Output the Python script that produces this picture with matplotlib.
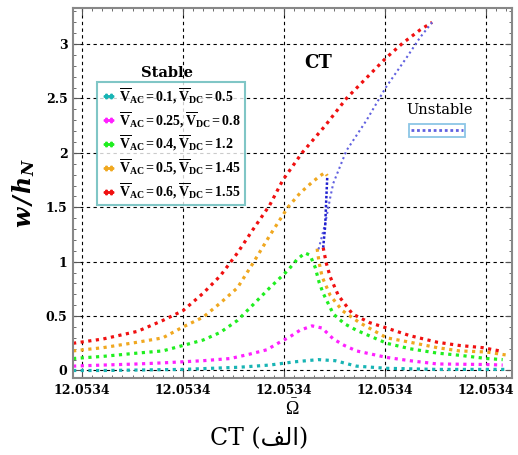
import matplotlib
matplotlib.use('Agg')
import matplotlib.pyplot as plt
from matplotlib.lines import Line2D
from matplotlib.ticker import MultipleLocator, FixedLocator, FixedFormatter

plt.rcParams['font.family'] = ['DejaVu Serif', 'DejaVu Sans']
plt.rcParams['mathtext.fontset'] = 'custom'
plt.rcParams['mathtext.rm'] = 'Liberation Serif'
plt.rcParams['mathtext.it'] = 'Liberation Serif:italic'
plt.rcParams['mathtext.bf'] = 'Liberation Serif:bold'
plt.rcParams['mathtext.bfit'] = 'DejaVu Serif:italic:bold'

# ---- data (x in tick units, 0..4 = the five ticks) ----
x_ticks = [0, 1, 2, 3, 4]
x_tick_labels = ['12.0534'] * 5
y_ticks = [0, 0.5, 1, 1.5, 2, 2.5, 3]
y_tick_labels = ['0', '0.5', '1', '1.5', '2', '2.5', '3']

# Vac=0.6, Vdc=1.55 : stable lower branch up to the peak
red_up_x = [-0.09, 0.21, 0.55, 0.80, 1.00, 1.20, 1.37, 1.54, 1.69, 1.86, 1.99,
            2.18, 2.41, 2.62, 3.01, 3.18, 3.35, 3.47]
red_up_y = [0.25, 0.29, 0.36, 0.46, 0.55, 0.71, 0.87, 1.08, 1.29, 1.52, 1.75,
            2.00, 2.25, 2.50, 2.87, 3.01, 3.13, 3.20]
# stable right branch
red_dn_x = [2.39, 2.42, 2.46, 2.54, 2.68, 2.85, 3.02, 3.25, 3.52, 3.74, 3.97, 4.14]
red_dn_y = [1.13, 0.99, 0.86, 0.69, 0.52, 0.44, 0.39, 0.32, 0.26, 0.23, 0.21, 0.18]
# unstable branch
red_un_x = [3.47, 3.35, 3.22, 3.01, 2.82, 2.62, 2.49, 2.46, 2.41, 2.36, 2.34]
red_un_y = [3.20, 3.06, 2.88, 2.60, 2.30, 2.02, 1.72, 1.59, 1.35, 1.17, 1.10]

# Vac=0.5, Vdc=1.45
org_up_x = [-0.09, 0.21, 0.55, 0.80, 1.00, 1.20, 1.37, 1.54, 1.69, 1.86, 2.04,
            2.16, 2.28, 2.36, 2.41, 2.43]
org_up_y = [0.18, 0.21, 0.26, 0.30, 0.40, 0.49, 0.62, 0.76, 0.98, 1.24, 1.50,
            1.63, 1.73, 1.79, 1.82, 1.79]
org_dn_x = [2.33, 2.35, 2.38, 2.46, 2.58, 2.75, 3.02, 3.25, 3.52, 3.74, 4.01, 4.22]
org_dn_y = [1.12, 0.99, 0.86, 0.69, 0.55, 0.44, 0.30, 0.26, 0.21, 0.18, 0.17, 0.14]
org_un_x = [2.43, 2.42, 2.41, 2.39]
org_un_y = [1.77, 1.56, 1.33, 1.13]

# Vac=0.4, Vdc=1.2
grn_x = [-0.09, 0.21, 0.55, 0.80, 1.00, 1.20, 1.37, 1.54, 1.69, 1.86, 2.04, 2.13,
         2.21, 2.26, 2.31, 2.35, 2.39, 2.49, 2.60, 2.72, 3.02, 3.25, 3.52, 3.74,
         4.01, 4.17]
grn_y = [0.11, 0.13, 0.16, 0.18, 0.23, 0.28, 0.35, 0.46, 0.60, 0.76, 0.92, 1.02,
         1.08, 1.06, 0.95, 0.81, 0.71, 0.52, 0.43, 0.37, 0.25, 0.20, 0.16, 0.14,
         0.11, 0.10]

# Vac=0.25, Vdc=0.8
mag_x = [-0.09, 0.21, 0.55, 0.80, 1.00, 1.20, 1.47, 1.66, 1.83, 1.96, 2.06, 2.16,
         2.28, 2.38, 2.49, 2.60, 2.72, 3.02, 3.25, 3.52, 4.01, 4.17]
mag_y = [0.04, 0.05, 0.06, 0.07, 0.08, 0.09, 0.11, 0.15, 0.19, 0.26, 0.31, 0.37,
         0.41, 0.39, 0.29, 0.23, 0.18, 0.12, 0.09, 0.06, 0.055, 0.05]

# Vac=0.1, Vdc=0.5
cyn_x = [-0.09, 0.21, 1.00, 1.56, 1.86, 2.11, 2.34, 2.51, 2.72, 3.02, 3.52, 4.22]
cyn_y = [0.00, 0.00, 0.01, 0.03, 0.05, 0.08, 0.10, 0.09, 0.04, 0.02, 0.01, 0.01]

labels = [r'$\mathbf{\overline{V}_{AC}=0.1,\overline{V}_{DC}=0.5}$',
          r'$\mathbf{\overline{V}_{AC}=0.25,\overline{V}_{DC}=0.8}$',
          r'$\mathbf{\overline{V}_{AC}=0.4,\overline{V}_{DC}=1.2}$',
          r'$\mathbf{\overline{V}_{AC}=0.5,\overline{V}_{DC}=1.45}$',
          r'$\mathbf{\overline{V}_{AC}=0.6,\overline{V}_{DC}=1.55}$']
colors = ['#18b4b4', '#ff20ff', '#20ee20', '#f0a820', '#f01010']
unstable_color = '#6060e0'

fig = plt.figure(figsize=(5.18, 4.55), dpi=100)
ax = fig.add_axes([0.141, 0.169, 0.847, 0.813])

dot = dict(ls=(0, (1, 1.4)), lw=2.3)
ax.plot(cyn_x, cyn_y, color=colors[0], **dot)
ax.plot(mag_x, mag_y, color=colors[1], **dot)
ax.plot(grn_x, grn_y, color=colors[2], **dot)
ax.plot(org_up_x, org_up_y, color=colors[3], **dot)
ax.plot(org_dn_x, org_dn_y, color=colors[3], **dot)
ax.plot(red_up_x, red_up_y, color=colors[4], **dot)
ax.plot(red_dn_x, red_dn_y, color=colors[4], **dot)
ax.plot(red_un_x, red_un_y, color=unstable_color, ls=(0, (1, 1.5)), lw=1.5)
ax.plot(org_un_x, org_un_y, color='#2020d0', ls=(0, (1, 0.8)), lw=1.8)

ax.set_xlim(-0.09, 4.26)
ax.set_ylim(-0.07, 3.33)
ax.xaxis.set_major_locator(FixedLocator(x_ticks))
ax.xaxis.set_major_formatter(FixedFormatter(x_tick_labels))
ax.xaxis.set_minor_locator(MultipleLocator(0.1))
ax.yaxis.set_major_locator(FixedLocator(y_ticks))
ax.yaxis.set_major_formatter(FixedFormatter(y_tick_labels))
ax.yaxis.set_minor_locator(MultipleLocator(0.1))
ax.tick_params(which='both', direction='in', top=True, right=True,
               labelsize=9, pad=4, color='#555555')
ax.tick_params(which='major', length=5)
ax.tick_params(which='minor', length=2.5)
for lab in ax.get_xticklabels() + ax.get_yticklabels():
    lab.set_fontweight('bold')
ax.grid(True, which='major', color='black', ls=(0, (3, 3)), lw=0.8)
for sp in ax.spines.values():
    sp.set_color('#888888')
    sp.set_linewidth(1.5)

ax.set_ylabel(r'$\mathbfit{w\,/\,h_N}$', fontsize=17, labelpad=6)
ax.set_xlabel(r'$\bar{\Omega}$', fontsize=13, labelpad=2)
fig.text(0.5, 0.035, 'CT (\ufed2\ufedf\u0627)', ha='center', va='center',
         fontsize=17)

# legend for stable branches
handles = [Line2D([], [], ls='none', marker='P', ms=3.2, color=c) for c in colors]
leg = ax.legend(handles, labels, loc='upper left', bbox_to_anchor=(0.055, 0.80),
                borderaxespad=0, numpoints=2, handlelength=1.0, handletextpad=0.3,
                fontsize=10, frameon=True, fancybox=False, labelspacing=0.32,
                borderpad=0.3)
leg.get_frame().set_edgecolor('#60b8b8')
leg.get_frame().set_linewidth(1.5)
ax.add_artist(leg)
ax.text(0.215, 0.825, 'Stable', transform=ax.transAxes, ha='center', va='center',
        fontsize=10.5, fontweight='bold')

# legend for the unstable branch
uh = [Line2D([], [], color=unstable_color, ls=(0, (1, 1)), lw=2.0)]
leg2 = ax.legend(uh, [''], loc='upper left', bbox_to_anchor=(0.765, 0.686),
                 borderaxespad=0, handlelength=6.2, handletextpad=0,
                 frameon=True, fancybox=False, borderpad=0.3, fontsize=6)
leg2.get_frame().set_edgecolor('#70b8e0')
leg2.get_frame().set_linewidth(1.3)
ax.text(0.835, 0.705, 'Unstable', transform=ax.transAxes, ha='center',
        va='bottom', fontsize=10.5)

ax.text(2.34, 2.83, 'CT', ha='center', va='center', fontsize=13,
        fontweight='bold')

fig.savefig('out.png', dpi=100)
